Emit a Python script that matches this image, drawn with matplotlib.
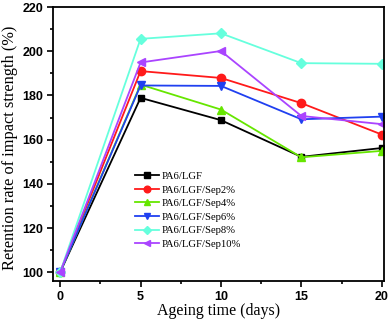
import numpy as np
import matplotlib
matplotlib.use("Agg")
import matplotlib.pyplot as plt
from matplotlib.ticker import MultipleLocator

days = [0, 5, 10, 15, 20]
lgf = [100, 178.9, 168.8, 152.2, 156.2]
sep2 = [100, 191.0, 187.9, 176.5, 162.3]
sep4 = [100, 184.9, 173.6, 152.0, 154.9]
sep6 = [100, 184.5, 184.3, 169.2, 170.4]
sep8 = [100, 205.6, 208.1, 194.6, 194.3]
sep10 = [100, 194.9, 200.1, 170.7, 167.0]

labels = ["PA6/LGF", "PA6/LGF/Sep2%", "PA6/LGF/Sep4%",
          "PA6/LGF/Sep6%", "PA6/LGF/Sep8%", "PA6/LGF/Sep10%"]
series = [lgf, sep2, sep4, sep6, sep8, sep10]
colors = ["black", "#ff1a1a", "#66e600", "#2040f0", "#66ffdd", "#aa44ff"]
markers = ["s", "o", "^", "v", "D", "<"]
msizes = [5, 6, 6, 6, 5, 6]

fig = plt.figure(figsize=(3.92, 3.19), dpi=100)
ax = fig.add_axes([0.135, 0.119, 0.845, 0.859])

for vals, lab, c, m, ms in zip(series, labels, colors, markers, msizes):
    ax.plot(days, vals, color=c, marker=m, markersize=ms, linewidth=1.3, label=lab)

ax.set_xlim(-0.45, 20.15)
ax.set_ylim(96, 220)
ax.xaxis.set_major_locator(MultipleLocator(5))
ax.xaxis.set_minor_locator(MultipleLocator(2.5))
ax.yaxis.set_major_locator(MultipleLocator(20))
ax.yaxis.set_minor_locator(MultipleLocator(10))
ax.tick_params(which="major", direction="out", length=4, width=1.2, pad=3)
ax.tick_params(which="minor", direction="out", length=2.5, width=1.2)
for lab in ax.get_xticklabels() + ax.get_yticklabels():
    lab.set_family("Liberation Sans")
    lab.set_fontweight("bold")
    lab.set_fontsize(9)
for sp in ax.spines.values():
    sp.set_linewidth(1.3)

ax.set_xlabel("Ageing time (days)", family="Liberation Serif", fontsize=11.5, labelpad=0)
ax.set_ylabel("Retention rate of impact strength (%)", family="Liberation Serif",
              fontsize=11.8)
ax.yaxis.set_label_coords(-0.104, 0.485)

ax.legend(loc="upper left", bbox_to_anchor=(0.235, 0.415), frameon=False,
          prop={"family": "Liberation Serif", "size": 7.7}, handlelength=2.2,
          labelspacing=0.38, handletextpad=0.3, borderaxespad=0, markerscale=0.8)

plt.savefig("out.png", dpi=100)
